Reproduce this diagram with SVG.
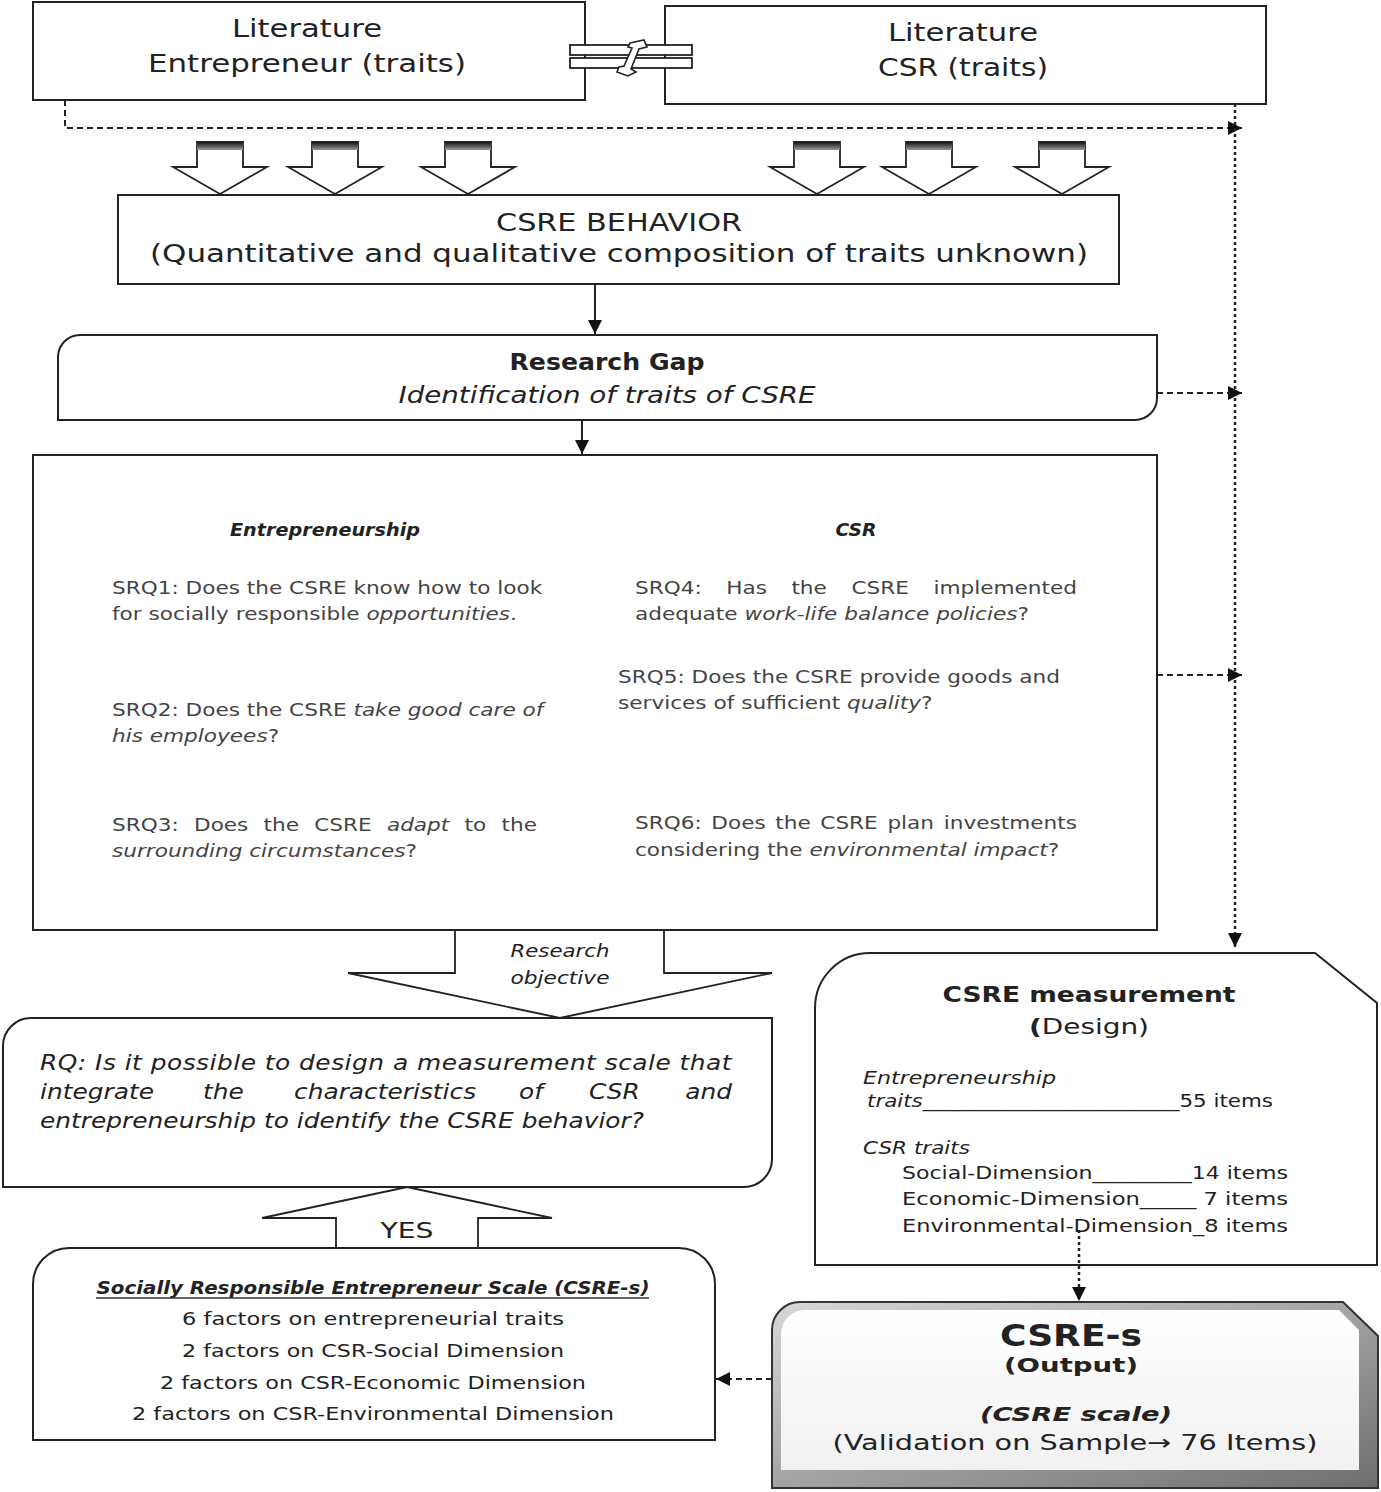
<svg xmlns="http://www.w3.org/2000/svg" width="1381" height="1492" viewBox="0 0 1381 1492">
<defs>
<style>
.t{font-family:"DejaVu Sans","Liberation Sans",sans-serif;fill:#222}
.g{fill:#444;font-size:18px}
.i{font-style:italic}
.b{font-weight:bold}
.box{fill:#fff;stroke:#222;stroke-width:2}
.ln{fill:none;stroke:#222;stroke-width:2}
.dash{fill:none;stroke:#222;stroke-width:2;stroke-dasharray:6 4}
.dot{fill:none;stroke:#222;stroke-width:2.5;stroke-dasharray:3 3}
.blk{fill:#fff;stroke:#222;stroke-width:1.8;stroke-linejoin:miter}
</style>
<marker id="ah" viewBox="0 0 10 10" refX="10" refY="5" markerWidth="16" markerHeight="14" markerUnits="userSpaceOnUse" orient="auto"><path d="M0,0 L10,5 L0,10 Z" fill="#111"/></marker>
<linearGradient id="band" x1="0" y1="0" x2="0" y2="1"><stop offset="0" stop-color="#111"/><stop offset="1" stop-color="#999"/></linearGradient>
<linearGradient id="bev" x1="0" y1="0" x2="1" y2="1"><stop offset="0" stop-color="#d8d8d8"/><stop offset="1" stop-color="#6e6e6e"/></linearGradient>
<linearGradient id="face" x1="0" y1="0" x2="0" y2="1"><stop offset="0" stop-color="#ffffff"/><stop offset="1" stop-color="#f1f1f1"/></linearGradient>
<g id="darr"><path class="blk" d="M-23,0 H23 V25 H47 L0,52 L-47,25 H-23 Z"/><rect x="-23" y="0" width="46" height="8" fill="url(#band)"/></g>
</defs>
<rect width="1381" height="1492" fill="#fff"/>

<g id="lit-entrepreneur">
<rect class="box" x="33" y="2" width="552" height="98"/>
<text class="t" font-size="24" x="307" y="37" text-anchor="middle" textLength="150" lengthAdjust="spacingAndGlyphs">Literature</text>
<text class="t" font-size="24" x="307" y="72" text-anchor="middle" textLength="318" lengthAdjust="spacingAndGlyphs">Entrepreneur (traits)</text>
</g>

<g id="lit-csr">
<rect class="box" x="665" y="6" width="601" height="98" stroke-width="2.5"/>
<text class="t" font-size="24" x="963" y="41" text-anchor="middle" textLength="150" lengthAdjust="spacingAndGlyphs">Literature</text>
<text class="t" font-size="24" x="963" y="76" text-anchor="middle" textLength="170" lengthAdjust="spacingAndGlyphs">CSR (traits)</text>
</g>

<g id="not-equal">
<rect x="570" y="45" width="122" height="10" fill="#fff" stroke="#222" stroke-width="1.8"/>
<rect x="570" y="58" width="122" height="10" fill="#fff" stroke="#222" stroke-width="1.8"/>
<path d="M630,43 L644,40 L647,47 L639,49 L631,69 L636,72 L628,76 L617,72 L619,67 L624,66 L632,48 L628,47 Z" fill="#fff" stroke="#222" stroke-width="1.6"/>
</g>

<g id="input-arrows">
<use href="#darr" transform="translate(220,142)"/>
<use href="#darr" transform="translate(335,142)"/>
<use href="#darr" transform="translate(468,142)"/>
<use href="#darr" transform="translate(817,142)"/>
<use href="#darr" transform="translate(929,142)"/>
<use href="#darr" transform="translate(1062,142)"/>
</g>

<g id="csre-behavior">
<rect class="box" x="118" y="195" width="1001" height="89"/>
<text class="t" font-size="24" x="619" y="231" text-anchor="middle" textLength="246" lengthAdjust="spacingAndGlyphs">CSRE BEHAVIOR</text>
<text class="t" font-size="24" x="619" y="262" text-anchor="middle" textLength="938" lengthAdjust="spacingAndGlyphs">(Quantitative and qualitative composition of traits unknown)</text>
</g>

<g id="research-gap">
<path class="box" d="M58,420 V357 A22,22 0 0 1 80,335 H1157 V398 A22,22 0 0 1 1135,420 Z"/>
<text class="t b" font-size="23" x="607" y="370" text-anchor="middle" textLength="195" lengthAdjust="spacingAndGlyphs">Research Gap</text>
<text class="t i" font-size="23" x="607" y="403" text-anchor="middle" textLength="417" lengthAdjust="spacingAndGlyphs">Identification of traits of CSRE</text>
</g>

<g id="srq-box">
<rect class="box" x="33" y="455" width="1124" height="475"/>
<text class="t b i" font-size="17" x="325" y="536" text-anchor="middle" textLength="190" lengthAdjust="spacingAndGlyphs">Entrepreneurship</text>
<text class="t b i" font-size="17" x="856" y="536" text-anchor="middle" textLength="41" lengthAdjust="spacingAndGlyphs">CSR</text>

<text class="t g" transform="translate(112,594) scale(1.2,1)">SRQ1: Does the CSRE know how to look</text>
<text class="t g" transform="translate(112,620) scale(1.2,1)">for socially responsible <tspan class="i">opportunities</tspan>.</text>

<text class="t g" transform="translate(112,716) scale(1.2,1)">SRQ2: Does the CSRE <tspan class="i">take good care of</tspan></text>
<text class="t g" transform="translate(112,742) scale(1.2,1)"><tspan class="i">his employees</tspan>?</text>

<text class="t g" transform="translate(112,831) scale(1.2,1)">SRQ3:</text>
<text class="t g" transform="translate(194,831) scale(1.2,1)">Does</text>
<text class="t g" transform="translate(263.5,831) scale(1.2,1)">the</text>
<text class="t g" transform="translate(314.2,831) scale(1.2,1)">CSRE</text>
<text class="t g i" transform="translate(386.9,831) scale(1.2,1)">adapt</text>
<text class="t g" transform="translate(464.6,831) scale(1.2,1)">to</text>
<text class="t g" transform="translate(501.5,831) scale(1.2,1)">the</text>
<text class="t g" transform="translate(112,857) scale(1.2,1)"><tspan class="i">surrounding circumstances</tspan>?</text>

<text class="t g" transform="translate(635,594) scale(1.2,1)">SRQ4:</text>
<text class="t g" transform="translate(726.2,594) scale(1.2,1)">Has</text>
<text class="t g" transform="translate(791.4,594) scale(1.2,1)">the</text>
<text class="t g" transform="translate(851.4,594) scale(1.2,1)">CSRE</text>
<text class="t g" transform="translate(933.4,594) scale(1.2,1)">implemented</text>
<text class="t g" transform="translate(635,620) scale(1.2,1)">adequate <tspan class="i">work-life balance policies</tspan>?</text>

<text class="t g" transform="translate(618,683) scale(1.2,1)">SRQ5: Does the CSRE provide goods and</text>
<text class="t g" transform="translate(618,709) scale(1.2,1)">services of sufficient <tspan class="i">quality</tspan>?</text>

<text class="t g" transform="translate(635,829) scale(1.2,1)">SRQ6:</text>
<text class="t g" transform="translate(711.3,829) scale(1.2,1)">Does</text>
<text class="t g" transform="translate(775.3,829) scale(1.2,1)">the</text>
<text class="t g" transform="translate(820.3,829) scale(1.2,1)">CSRE</text>
<text class="t g" transform="translate(887.4,829) scale(1.2,1)">plan</text>
<text class="t g" transform="translate(943.7,829) scale(1.2,1)">investments</text>
<text class="t g" transform="translate(635,856) scale(1.2,1)">considering the <tspan class="i">environmental impact</tspan>?</text>
</g>

<g id="research-objective">
<path class="blk" d="M455,931 V973 H348 L560,1018 L772,973 H664 V931"/>
<text class="t i" font-size="17" fill="#333" x="560" y="957" text-anchor="middle" textLength="99" lengthAdjust="spacingAndGlyphs">Research</text>
<text class="t i" font-size="17" fill="#333" x="560" y="984" text-anchor="middle" textLength="99" lengthAdjust="spacingAndGlyphs">objective</text>
</g>

<g id="rq">
<path class="box" d="M3,1187 V1046 A28,28 0 0 1 31,1018 H772 V1159 A28,28 0 0 1 744,1187 Z"/>
<text class="t i" font-size="22" fill="#333" transform="translate(40,1070) scale(1.13,1)" textLength="612" lengthAdjust="spacing">RQ: Is it possible to design a measurement scale that</text>
<text class="t i" font-size="22" fill="#333" transform="translate(40,1099) scale(1.13,1)">integrate</text>
<text class="t i" font-size="22" fill="#333" transform="translate(203,1099) scale(1.13,1)">the</text>
<text class="t i" font-size="22" fill="#333" transform="translate(294,1099) scale(1.13,1)">characteristics</text>
<text class="t i" font-size="22" fill="#333" transform="translate(519,1099) scale(1.13,1)">of</text>
<text class="t i" font-size="22" fill="#333" transform="translate(589,1099) scale(1.13,1)">CSR</text>
<text class="t i" font-size="22" fill="#333" transform="translate(732,1099) scale(1.13,1)" text-anchor="end">and</text>
<text class="t i" font-size="22" fill="#333" transform="translate(40,1128) scale(1.13,1)">entrepreneurship to identify the CSRE behavior?</text>
</g>

<g id="yes-arrow">
<path class="blk" d="M336,1248 V1218 H262 L407,1187 L552,1218 H478 V1248"/>
<text class="t" font-size="22" fill="#333" x="407" y="1238" text-anchor="middle" textLength="53" lengthAdjust="spacingAndGlyphs">YES</text>
</g>

<g id="csre-s-summary">
<path class="box" d="M33,1440 V1284 A36,36 0 0 1 69,1248 H679 A36,36 0 0 1 715,1284 V1440 Z"/>
<text class="t b i" font-size="17" fill="#333" x="373" y="1294" text-anchor="middle" textLength="553" lengthAdjust="spacingAndGlyphs">Socially Responsible Entrepreneur Scale (CSRE-s)</text>
<line x1="96" y1="1298" x2="649" y2="1298" stroke="#333" stroke-width="1.3"/>
<text class="t" font-size="18" fill="#333" x="373" y="1325" text-anchor="middle" textLength="382" lengthAdjust="spacingAndGlyphs">6 factors on entrepreneurial traits</text>
<text class="t" font-size="18" fill="#333" x="373" y="1357" text-anchor="middle" textLength="382" lengthAdjust="spacingAndGlyphs">2 factors on CSR-Social Dimension</text>
<text class="t" font-size="18" fill="#333" x="373" y="1389" text-anchor="middle" textLength="426" lengthAdjust="spacingAndGlyphs">2 factors on CSR-Economic Dimension</text>
<text class="t" font-size="18" fill="#333" x="373" y="1420" text-anchor="middle" textLength="482" lengthAdjust="spacingAndGlyphs">2 factors on CSR-Environmental Dimension</text>
</g>

<g id="csre-measurement">
<path class="box" d="M815,1265 V1008 A55,55 0 0 1 870,953 H1315 L1377,1003 V1265 Z"/>
<text class="t b" font-size="22" x="1089" y="1002" text-anchor="middle" textLength="293" lengthAdjust="spacingAndGlyphs">CSRE measurement</text>
<text class="t" font-size="22" x="1089" y="1034" text-anchor="middle" textLength="120" lengthAdjust="spacingAndGlyphs"><tspan class="b">(</tspan>Design)</text>
<text class="t i" font-size="17" fill="#333" x="863" y="1084" textLength="193" lengthAdjust="spacingAndGlyphs">Entrepreneurship</text>
<text class="t" font-size="17" fill="#333" x="867" y="1107" textLength="406" lengthAdjust="spacingAndGlyphs"><tspan class="i">traits</tspan>________________________55 items</text>
<text class="t i" font-size="17" fill="#333" x="863" y="1154" textLength="107" lengthAdjust="spacingAndGlyphs">CSR traits</text>
<text class="t" font-size="17" fill="#333" x="902" y="1179" textLength="386" lengthAdjust="spacingAndGlyphs">Social-Dimension_________14 items</text>
<text class="t" font-size="17" fill="#333" x="902" y="1205" textLength="386" lengthAdjust="spacingAndGlyphs">Economic-Dimension_____  7 items</text>
<text class="t" font-size="17" fill="#333" x="902" y="1232" textLength="386" lengthAdjust="spacingAndGlyphs">Environmental-Dimension_8 items</text>
</g>

<g id="csre-s-output">
<path d="M772,1488 V1330 A28,28 0 0 1 800,1302 H1343 L1378,1336 V1488 Z" fill="url(#bev)" stroke="#333" stroke-width="2"/>
<path d="M781,1470 V1334 A24,24 0 0 1 805,1310 H1339 L1359,1330 V1470 Z" fill="url(#face)"/>
<text class="t b" font-size="30" fill="#111" x="1071" y="1346" text-anchor="middle" textLength="142" lengthAdjust="spacingAndGlyphs">CSRE-s</text>
<text class="t b" font-size="19" fill="#111" x="1071" y="1372" text-anchor="middle" textLength="134" lengthAdjust="spacingAndGlyphs">(Output)</text>
<text class="t b i" font-size="20" fill="#111" x="1076" y="1421" text-anchor="middle" textLength="192" lengthAdjust="spacingAndGlyphs">(CSRE scale)</text>
<text class="t" font-size="21" fill="#333" x="1075" y="1450" text-anchor="middle" textLength="485" lengthAdjust="spacingAndGlyphs">(Validation on Sample→ 76 Items)</text>
</g>

<g id="connectors">
<path class="dash" d="M65,100 V128 H1242" marker-end="url(#ah)"/>
<path class="dot" d="M1235,104 V947" marker-end="url(#ah)"/>
<path class="dash" d="M1157,393 H1242" marker-end="url(#ah)"/>
<path class="dash" d="M1157,675 H1242" marker-end="url(#ah)"/>
<path class="ln" d="M595,284 V334" marker-end="url(#ah)"/>
<path class="ln" d="M582,420 V454" marker-end="url(#ah)"/>
<path class="dot" d="M1079,1230 V1301" marker-end="url(#ah)"/>
<path class="dash" d="M772,1379 H716" marker-end="url(#ah)"/>
</g>
</svg>
